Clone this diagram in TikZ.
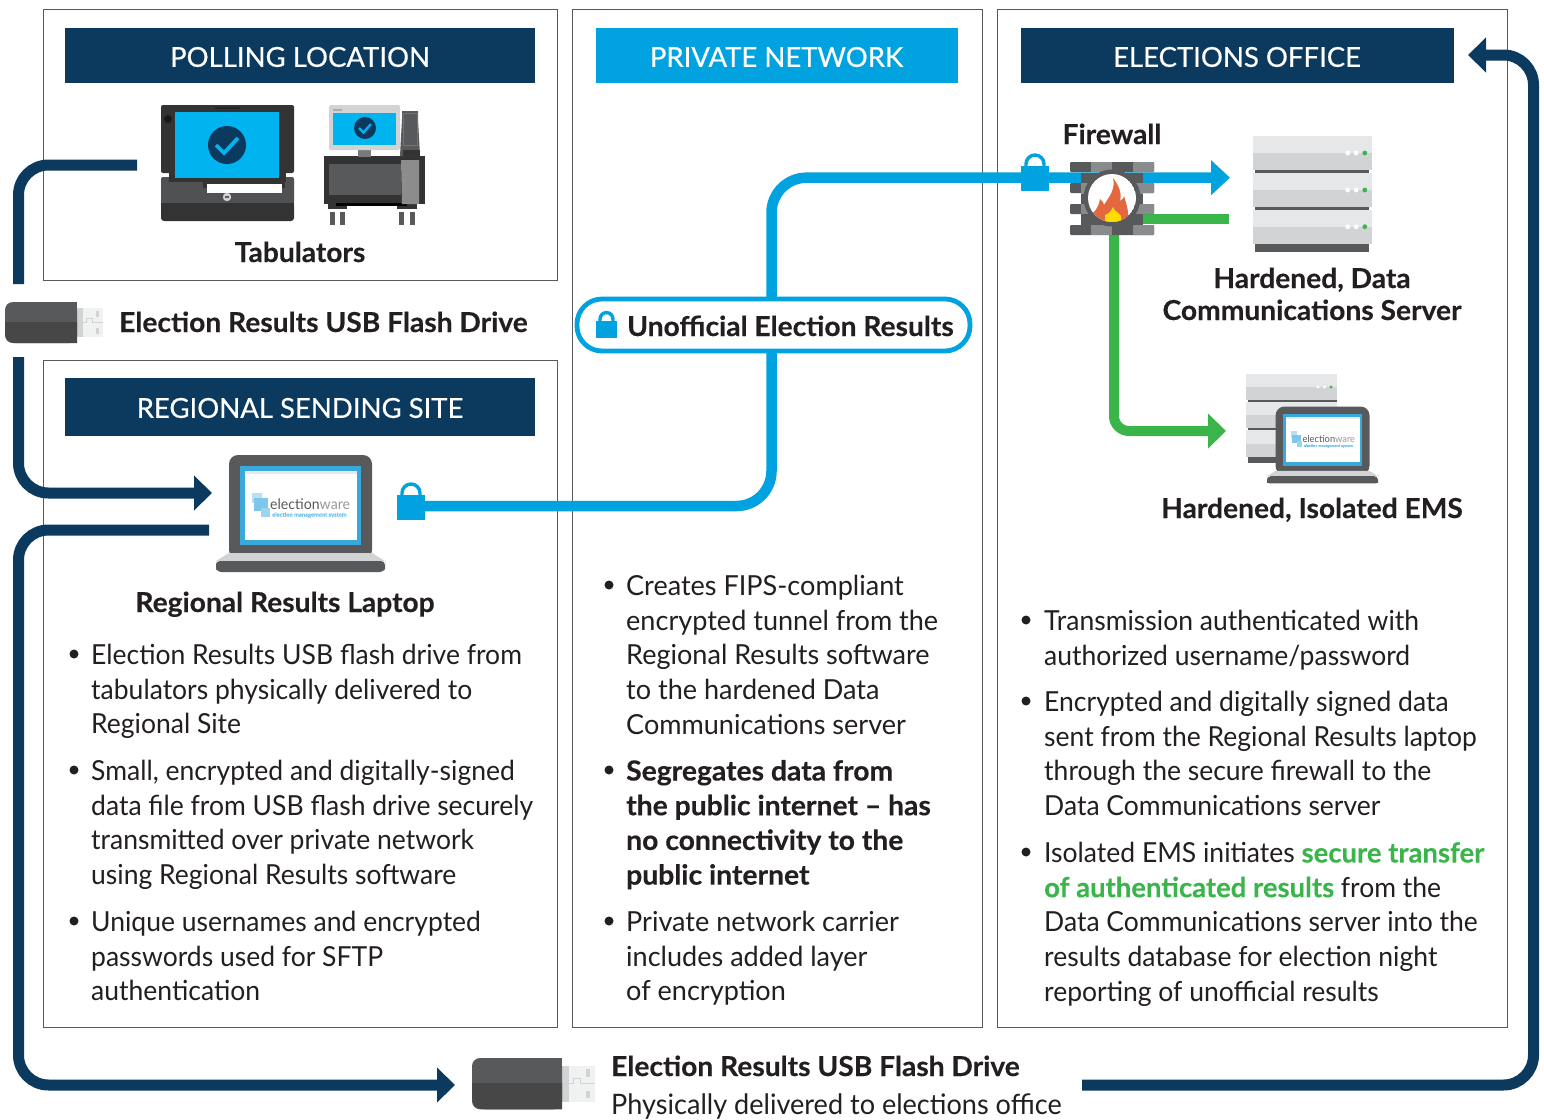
\documentclass[tikz,border=0pt]{standalone}
\usepackage{fontspec}
\setmainfont[FakeStretch=0.96,BoldFeatures={FakeStretch=1.025,FakeBold=0.35}]{Lato}
\newfontfamily\hdrfont[FakeBold=0.45]{Lato}
\newfontfamily\midfont[FakeStretch=0.98,BoldFeatures={FakeStretch=1.025,FakeBold=0.35}]{Lato}
\newfontfamily\grnfont[FakeStretch=0.995,FakeBold=0.1]{Lato Bold}
\usetikzlibrary{arrows.meta,calc}
\definecolor{navy}{HTML}{0C3A5F}
\definecolor{skyb}{HTML}{00A3E0}
\definecolor{scrn}{HTML}{00B4EF}
\definecolor{grn}{HTML}{39B54A}
\definecolor{dk}{HTML}{333333}
\definecolor{mg}{HTML}{58595B}
\definecolor{lg}{HTML}{D1D3D4}
\definecolor{vlg}{HTML}{E6E7E8}
\definecolor{lapb}{HTML}{39A9DC}
\definecolor{inkt}{HTML}{231F20}
\definecolor{flameo}{HTML}{E4683F}
\definecolor{flamey}{HTML}{FFDD00}
\tikzset{
  panel/.style={draw=black!65,line width=0.9pt,fill=white},
  hdr/.style={fill=#1,text=white,inner sep=0,font=\hdrfont\fontsize{27.5}{30}\selectfont},
  navyline/.style={draw=navy,line width=11pt,rounded corners=30pt},
  navyarrow/.style={navyline,-{Triangle[width=34pt,length=18pt]}},
  blueline/.style={draw=skyb,line width=10.5pt,rounded corners=35pt},
  greenline/.style={draw=grn,line width=10pt,rounded corners=15pt},
  body/.style={anchor=north west,inner sep=0,align=left,text=inkt,font=\fontsize{27.6}{34.7}\selectfont},
  midbody/.style={body,font=\midfont\fontsize{27.6}{34.7}\selectfont},
  lbl/.style={anchor=base,inner sep=0,text=inkt,font=\fontsize{27.5}{32}\selectfont\bfseries},
  lbll/.style={lbl,anchor=base west},
  bdot/.style={circle,fill=inkt,inner sep=0,minimum size=9pt},
}
\newcommand{\bodyat}[4]{\node[body] (#1) at ({#2},{#3-11.7}) {\rule{0pt}{22pt}#4};}
\newcommand{\midat}[4]{\node[midbody] (#1) at ({#2},{#3-11.7}) {\rule{0pt}{22pt}#4};}
\newcommand{\dotat}[3]{\node[bdot] (#1) at (#2,#3) {};}
\newcommand{\grntext}[1]{\textcolor{grn}{\grnfont #1}}
\newcommand{\usbdrive}[3]{% x y scale
 \begin{scope}[shift={(#1,#2)},scale=#3]
  \fill[lg] (72,6) rectangle (77.5,35);
  \fill[vlg!60] (77.5,6) rectangle (98,35);
  \draw[lg,line width=0.6pt] (77.5,20.5) -- (81,20.5) -- (81,16) -- (87,16) -- (87,20.5) -- (98,20.5);
  \fill[lg] (91,9) rectangle (94,15);
  \fill[lg] (91,26) rectangle (94,32);
  \fill[mg,rounded corners=8pt] (0,0) rectangle (72,41);
  \fill[mg] (30,0) rectangle (72,20);
  \fill[dk!90!white] (0,20) -- (72,20) -- (72,41) -- (10,41) .. controls (3,41) and (0,37) .. (0,31) -- cycle;
 \end{scope}}
\newcommand{\padlock}[3]{% centre x, body top y, scale
 \begin{scope}[shift={(#1,#2)},scale=#3]
  \draw[skyb,line width=3.4pt] (-9,2) -- (-9,-2) arc (180:360:9) -- (9,2);
  \fill[skyb] (-14,0) rectangle (14,24.7);
 \end{scope}}
\newcommand{\lapimg}[3]{% left x, top y, scale : reference laptop 216..385 x 455..572
 \begin{scope}[shift={(#1,#2)},scale=#3,transform shape]
  \fill[mg,rounded corners=9pt] (13,0) rectangle (156,104);
  \fill[lapb] (24,11) rectangle (145,90);
  \fill[white] (29,16) rectangle (141,85);
  \fill[vlg] (29,16) rectangle (141,18.5);
  \fill[lg] (13,98) -- (156,98) -- (169,106) -- (0,106) -- cycle;
  \fill[mg,rounded corners=4pt] (0,106) -- (169,106) -- (169,110) .. controls (169,115) and (165,117) .. (160,117) -- (9,117) .. controls (4,117) and (0,115) .. (0,110) -- cycle;
  \fill[lapb!35] (36,38) rectangle (46,48);
  \fill[lapb!65] (38,43) rectangle (52,56);
  \fill[lapb!50] (45,53) rectangle (54,62);
  \node[inner sep=0,anchor=west,text=black!65,font=\fontsize{14.7}{15}\selectfont,transform shape] (lw#1) at (54,49.5) {election\textcolor{black!40}{ware}};
  \node[inner sep=0,anchor=west,text=lapb!70,font=\fontsize{5.6}{6}\selectfont\bfseries,transform shape] (ls#1) at (56,60) {election management system};
 \end{scope}}
\newcommand{\srvunit}[4]{% x y w h
 \fill[vlg] (#1,#2) rectangle ({#1+#3},{#2+#4*0.5});
 \fill[lg] (#1,{#2+#4*0.5}) rectangle ({#1+#3},{#2+#4});
}
\begin{document}
\begin{tikzpicture}[x=1pt,y=-1pt]
\useasboundingbox (0,0) rectangle (1544,1119);
\fill[white] (0,0) rectangle (1544,1119);
% panels
\draw[panel] (43.5,9.5) rectangle (557,280);
\draw[panel] (43.5,360.5) rectangle (557,1027);
\draw[panel] (572.5,9.5) rectangle (982,1027);
\draw[panel] (997.5,9.5) rectangle (1507,1027);
% headers
\fill[navy] (65,28) rectangle (535,83);
\fill[skyb] (596,28) rectangle (958,83);
\fill[navy] (1021,28) rectangle (1454,83);
\fill[navy] (65,378) rectangle (535,436);
\node[hdr=none] (hpoll) at (300,57) {POLLING LOCATION};
\node[hdr=none] (hpriv) at (776.5,57) {PRIVATE NETWORK};
\node[hdr=none] (helec) at (1237,57) {ELECTIONS OFFICE};
\node[hdr=none] (hreg) at (300,408) {REGIONAL SENDING SITE};
% connector end points
\coordinate (tabout) at (137,165);
\coordinate (usbatop) at (18.5,284);
\coordinate (usbabot) at (18.5,357);
\coordinate (lapin) at (212,493);
\coordinate (lapout) at (209,530);
\coordinate (leftup) at (18.5,530);
\coordinate (leftlow) at (18.5,1085);
\coordinate (usbbin) at (455,1085);
\coordinate (usbbout) at (1082,1085);
\coordinate (rightlow) at (1533.5,1085);
\coordinate (righttop) at (1533.5,55);
\coordinate (elecin) at (1468,55);
\coordinate (lockout) at (424,506);
\coordinate (tunbot) at (771.5,506);
\coordinate (tuntop) at (771.5,177.7);
\coordinate (srvin) at (1230,177.7);
\coordinate (fwgreen) at (1143,219);
\coordinate (srvgreen) at (1229,219);
\coordinate (fwdown) at (1114,232);
\coordinate (emsin) at (1226,431);
% navy connectors
\draw[navyline] (tabout) -| (usbatop);
\draw[navyarrow] (usbabot) |- (lapin);
\draw[navyarrow] (lapout) -- (leftup) -- (leftlow) -- (usbbin);
\draw[navyarrow] (usbbout) -- (rightlow) -- (righttop) -- (elecin);
% blue + green connectors
\draw[blueline,-{Triangle[width=34pt,length=19pt]}] (lockout) -- (tunbot) -- (tuntop) -- (srvin);
\draw[greenline] (fwgreen) -- (srvgreen);
\draw[greenline,-{Triangle[width=34pt,length=18pt]}] (fwdown) |- (emsin);
% pill
\node[draw=skyb,line width=4.8pt,fill=white,rounded corners=25pt,minimum width=393pt,minimum height=52pt,inner sep=0] (pill) at (773.5,325) {};
\padlock{606.5}{320.5}{0.72}
\node[lbll] (pilltext) at (627,336) {Unofficial Election Results};
% locks
\padlock{411}{495}{1}
\padlock{1035}{166}{1}
% tabulator big
\fill[dk,rounded corners=2pt] (161,105) rectangle (294,173);
\fill[black!90!white] (168,119) circle (4);
\fill[black!85!white] (215,107) rectangle (240,109);
\fill[mg!105!white,rounded corners=2pt] (161,177) rectangle (294,205);
\fill[dk,rounded corners=3pt] (161,203) rectangle (294,221);
\fill[dk] (161,203) rectangle (294,210);
\fill[dk] (169,170) rectangle (286,182);
\fill[scrn] (175,112) rectangle (279,178);
\fill[dk] (203,182) rectangle (285,188);
\fill[white] (207,184) rectangle (282,193);
\fill[lg] (227,197) circle (4.2);
\fill[mg] (225,196.3) rectangle (229,197.7);
\fill[navy] (227,145) circle (19);
\draw[scrn,line width=3.8pt] (216,145) -- (224,153) -- (238,138);
% tabulator small
\fill[dk] (328,204) rectangle (347,209);
\fill[dk] (397,204) rectangle (417,209);
\foreach \lx in {330,340,399,410}{\fill[mg] (\lx,212) rectangle (\lx+4.5,225);}
\fill[dk] (324,156) rectangle (425,204);
\fill[mg] (329,164) rectangle (401,195);
\fill[black] (336,203) rectangle (407,206);
\fill[mg!80!white] (358,150) rectangle (371,157);
\fill[lg,rounded corners=2pt] (329,105) rectangle (400,150);
\fill[scrn] (333,113) rectangle (396,145);
\fill[mg!50!white] (333,109) rectangle (342,110.5);
\fill[navy] (365,128) circle (11);
\draw[scrn,line width=2.3pt] (359,128) -- (363.5,132.5) -- (371,124);
\fill[mg] (402,111) -- (418,111) -- (418,119) -- (420,156) -- (400,156) -- (402,119) -- cycle;
\fill[dk] (402.5,150) rectangle (419.5,156);
\draw[black!55,line width=0.6pt] (403,113) rectangle (417,145);
\fill[black!45!white] (401,160) -- (419,160) -- (419,204) -- (402,204) -- cycle;
% usb
\usbdrive{5}{302}{1}
\usbdrive{472}{1058}{1.25}
% laptop regional
\lapimg{216}{455}{1}
% firewall
\foreach \ry in {162,183,204,225}{
  \fill[mg,rounded corners=1pt] (1070,\ry) rectangle (1154,\ry+10);
  \fill[mg!70!white] (1091,\ry) rectangle (1112,\ry+10);
  \fill[mg!70!white,rounded corners=1pt] (1133,\ry) rectangle (1154,\ry+10);
}
\fill[mg!70!white] (1081,172.5) rectangle (1143,224.5);
\fill[mg] (1081,172.5) rectangle (1143,183);
\fill[mg] (1081,214) rectangle (1143,224.5);
\fill[mg] (1081,193.5) rectangle (1143,204);
\fill[mg] (1112,198) circle (28.5);
\begin{scope}
 \clip (1112,198) circle (24);
 \fill[white] (1112,198) circle (24);
 \fill[flameo] (1093,213) .. controls (1098,208) and (1099,204) .. (1100,199) .. controls (1103,202) and (1104,203) .. (1104,205) .. controls (1108,198) and (1116,190) .. (1113,178) .. controls (1119,186) and (1122,193) .. (1120,201) .. controls (1123,200) and (1124,197) .. (1124,196) .. controls (1126,203) and (1128,209) .. (1128,213) -- (1128,224) -- (1093,224) -- cycle;
 \fill[flamey] (1105,215) .. controls (1108,214) and (1111,212) .. (1113,207) .. controls (1114,211) and (1118,212) .. (1121,216) -- (1121,224) -- (1105,224) -- cycle;
\end{scope}
% big server
\fill[mg] (1255,169) rectangle (1369,251.7);
\srvunit{1253}{136}{119}{34}
\srvunit{1253}{172.8}{119}{34}
\srvunit{1253}{209.5}{119}{34}
\foreach \sy in {153,190,226.7}{
 \fill[white] (1347.7,\sy) circle (2.4); \fill[white] (1356.2,\sy) circle (2.4); \fill[grn] (1364.8,\sy) circle (2.4);}
% ems server
\fill[mg] (1248,398) rectangle (1337,463);
\srvunit{1246}{374}{91}{26}
\srvunit{1246}{402}{91}{26}
\srvunit{1246}{430}{91}{27}
\fill[white] (1318,387) circle (1.7); \fill[white] (1324.5,387) circle (1.7); \fill[grn] (1331,387) circle (1.7);
% ems laptop
\lapimg{1267}{406.5}{0.657}
% labels
\node[lbl] (ltab) at (300,262) {Tabulators};
\node[lbll] (lusba) at (119,332) {Election Results USB Flash Drive};
\node[lbl] (lreg) at (285,612) {Regional Results Laptop};
\node[lbl] (lfw) at (1112,144) {Firewall};
\node[lbl] (lsrva) at (1312,288) {Hardened, Data};
\node[lbl] (lsrvb) at (1312,320) {Communications Server};
\node[lbl] (lems) at (1312,518) {Hardened, Isolated EMS};
\node[lbll] (lusbb) at (611,1076) {Election Results USB Flash Drive};
\node[lbll,font=\fontsize{28.2}{32}\selectfont] (lusbc) at (611,1114) {Physically delivered to elections office};
% left bullets
\dotat{da}{74}{654} \bodyat{ba}{91}{654}{Election Results USB flash drive from\\tabulators physically delivered to\\Regional Site}
\dotat{db}{74}{770} \bodyat{bb}{91}{770}{Small, encrypted and digitally-signed\\data file from USB flash drive securely\\transmitted over private network\\using Regional Results software}
\dotat{dc}{74}{921} \bodyat{bc}{91}{921}{Unique usernames and encrypted\\passwords used for SFTP\\authentication}
% middle bullets
\dotat{dd}{609}{585} \midat{bd}{626}{585}{Creates FIPS-compliant\\encrypted tunnel from the\\Regional Results software\\to the hardened Data\\Communications server}
\dotat{de}{609}{770} \midat{be}{626}{770}{\bfseries Segregates data from\\\bfseries the public internet – has\\\bfseries no connectivity to the\\\bfseries public internet}
\dotat{df}{609}{921} \midat{bf}{626}{921}{Private network carrier\\includes added layer\\of encryption}
% right bullets
\dotat{dg}{1026}{620} \bodyat{bg}{1044}{620}{Transmission authenticated with\\authorized username/password}
\dotat{dh}{1026}{701} \bodyat{bh}{1044}{701}{Encrypted and digitally signed data\\sent from the Regional Results laptop\\through the secure firewall to the\\Data Communications server}
\dotat{di}{1026}{852} \bodyat{bi}{1044}{852}{Isolated EMS initiates \grntext{secure transfer}\\\grntext{of authenticated results} from the\\Data Communications server into the\\results database for election night\\reporting of unofficial results}
\end{tikzpicture}
\end{document}
